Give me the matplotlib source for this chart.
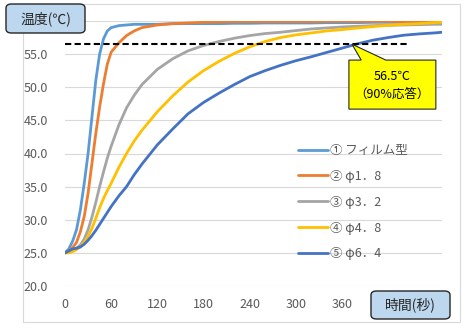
import matplotlib
matplotlib.use("Agg")
import matplotlib.pyplot as plt
from matplotlib.patches import FancyBboxPatch, Rectangle, Polygon

plt.rcParams['font.family'] = ['Noto Sans CJK JP', 'DejaVu Sans']

# time axis (seconds) shared by all series
time_s = [0, 5, 10, 15, 20, 25, 30, 35, 40, 45, 50, 55, 60, 70, 80, 90, 100,
          120, 140, 160, 180, 200, 220, 240, 260, 280, 300, 320, 340, 360,
          380, 400, 420, 440, 460, 480, 490]

film = [25.0, 25.6, 26.8, 28.5, 31.5, 35.5, 40.0, 45.5, 51.0, 55.0, 57.3, 58.5, 59.0,
        59.3, 59.4, 59.5, 59.5, 59.5, 59.6, 59.6, 59.6, 59.6, 59.65, 59.65, 59.7, 59.7,
        59.7, 59.7, 59.75, 59.75, 59.75, 59.8, 59.8, 59.8, 59.8, 59.8, 59.8]
d18 = [25.0, 25.3, 25.8, 26.6, 28.2, 30.5, 34.0, 38.5, 43.0, 47.0, 50.5, 53.5, 55.3,
       56.7, 57.8, 58.5, 59.0, 59.4, 59.6, 59.7, 59.8, 59.85, 59.9, 59.9, 59.9, 59.9,
       59.9, 59.9, 59.95, 59.95, 59.95, 59.95, 59.95, 59.95, 59.95, 59.95, 59.95]
d32 = [25.0, 25.2, 25.4, 25.7, 26.2, 27.1, 28.5, 30.4, 32.6, 35.0, 37.2, 39.3, 41.1,
       44.3, 46.9, 48.8, 50.4, 52.7, 54.3, 55.5, 56.3, 56.9, 57.4, 57.8, 58.1, 58.3,
       58.55, 58.8, 58.95, 59.1, 59.2, 59.3, 59.35, 59.4, 59.45, 59.5, 59.5]
d48 = [25.0, 25.0, 25.2, 25.5, 25.9, 26.6, 27.5, 28.7, 30.2, 31.8, 33.2, 34.4, 35.5,
       37.9, 40.0, 41.9, 43.5, 46.3, 48.7, 50.8, 52.5, 53.9, 55.1, 56.1, 56.9, 57.5,
       57.9, 58.2, 58.5, 58.7, 58.95, 59.15, 59.35, 59.5, 59.6, 59.75, 59.8]
d64 = [25.0, 25.3, 25.6, 25.7, 25.9, 26.3, 26.9, 27.6, 28.4, 29.3, 30.2, 31.1, 32.0,
       33.6, 35.0, 36.8, 38.4, 41.3, 43.7, 46.0, 47.7, 49.1, 50.4, 51.6, 52.5, 53.3,
       54.0, 54.6, 55.25, 55.9, 56.55, 57.1, 57.5, 57.85, 58.05, 58.2, 58.3]

labels = ['① フィルム型', '② φ1．8', '③ φ3．2', '④ φ4．8', '⑤ φ6．4']
colors = ['#5B9BD5', '#ED7D31', '#A5A5A5', '#FFC000', '#4472C4']
series = [film, d18, d32, d48, d64]

response_90 = 56.5
response_end = 446
x_ticks = list(range(0, 481, 60))
x_tick_labels = ['0', '60', '120', '180', '240', '300', '360', '', '']
y_ticks = [20, 25, 30, 35, 40, 45, 50, 55, 60]
y_tick_labels = ['20.0', '25.0', '30.0', '35.0', '40.0', '45.0', '50.0', '55.0', '']

W, H = 470, 328
fig = plt.figure(figsize=(W / 100, H / 100), dpi=100)


def fx(px):
    return px / W


def fy(py):
    return 1 - py / H


# chart area border
fig.patches.append(Rectangle((fx(23), fy(322)), fx(460) - fx(23), fy(4) - fy(322),
                             transform=fig.transFigure, fill=False,
                             edgecolor='#D9D9D9', linewidth=0.8))

ax = fig.add_axes([fx(65), fy(286), fx(442) - fx(65), fy(21) - fy(286)])
for s, c, lab in zip(series, colors, labels):
    ax.plot(time_s, s, color=c, linewidth=2.0, label=lab, solid_capstyle='round')

ax.plot([0, response_end], [response_90, response_90], color='black',
        linewidth=1.5, linestyle=(0, (3, 1.6)))

ax.set_xlim(0, 490)
ax.set_ylim(20, 60)
ax.set_xticks(x_ticks)
ax.set_xticklabels(x_tick_labels)
ax.set_yticks(y_ticks)
ax.set_yticklabels(y_tick_labels)
ax.tick_params(length=0, labelsize=9, colors='#595959')
ax.tick_params(axis='y', pad=12)
ax.tick_params(axis='x', pad=9)
ax.grid(axis='y', color='#D9D9D9', linewidth=0.8)
ax.set_axisbelow(True)
for sp in ax.spines.values():
    sp.set_visible(False)

leg = ax.legend(loc='upper left', bbox_to_anchor=(fx(298), fy(144)),
                bbox_transform=fig.transFigure, frameon=False, fontsize=9,
                handlelength=2.4, handletextpad=0.2, labelspacing=1.03,
                borderpad=0, borderaxespad=0)
for t in leg.get_texts():
    t.set_color('#595959')

# callout for 90% response
tip_t, tip_v = 373, response_90
box = [(369, 54.1), (385, 54.1), (tip_t, tip_v), (417, 54.1), (482, 54.1),
       (482, 46.7), (369, 46.7)]
ax.add_patch(Polygon(box, closed=True, facecolor='#FFFF00', edgecolor='#262626',
                     linewidth=0.8, zorder=5, clip_on=False))
ax.text(425, 51.6, '56.5℃', ha='center', va='center', fontsize=9, zorder=6)
ax.text(425, 48.9, '（90%応答）', ha='center', va='center', fontsize=9, zorder=6)

# axis title boxes
for (x0, y0, x1, y1), txt in [((6, 4, 85, 33), '温度(℃)'), ((371, 291, 450, 319), '時間(秒)')]:
    fig.patches.append(FancyBboxPatch((fx(x0), fy(y1)), fx(x1) - fx(x0), fy(y0) - fy(y1),
                                      boxstyle='round,pad=0,rounding_size=0.012',
                                      transform=fig.transFigure, facecolor='#BDD7EE',
                                      edgecolor='#262626', linewidth=1.0, zorder=10))
    fig.text(fx((x0 + x1) / 2), fy((y0 + y1) / 2), txt, ha='center', va='center',
             fontsize=10, color='#262626', zorder=11)

fig.savefig('out.png', dpi=100, facecolor='white')
